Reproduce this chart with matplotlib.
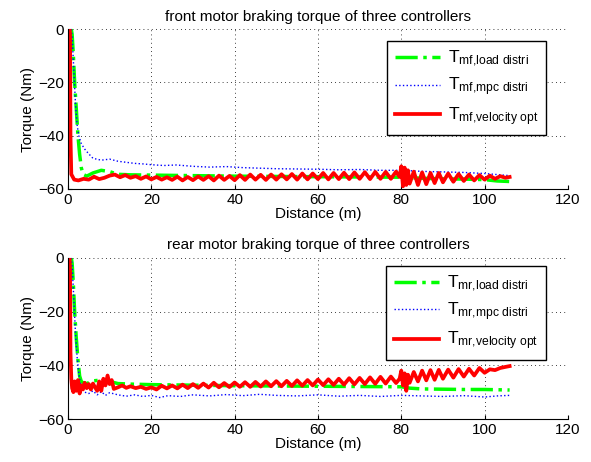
import matplotlib
matplotlib.use("Agg")
import matplotlib.pyplot as plt

plt.rcParams['font.family'] = ['Liberation Sans', 'DejaVu Sans']
plt.rcParams['mathtext.fontset'] = 'custom'
plt.rcParams['mathtext.rm'] = 'Liberation Sans'
plt.rcParams['mathtext.it'] = 'Liberation Sans:italic'

# ---- front motor ----
front_red_x = [0.4, 0.5, 0.6, 0.8, 1.5, 2.5, 3.75, 5.0, 6.25, 7.5, 8.75, 10.0, 11.25, 12.5,
               13.75, 15.0, 16.25, 17.5, 18.75, 20.0, 21.25, 22.5, 23.75, 25.0, 26.25, 27.5,
               28.75, 30.0, 31.25, 32.5, 33.75, 35.0, 36.25, 37.5, 38.75, 40.0, 41.25, 42.5,
               43.75, 45.0, 46.25, 47.5, 48.75, 50.0, 51.25, 52.5, 53.75, 55.0, 56.25, 57.5,
               58.75, 60.0, 61.25, 62.5, 63.75, 65.0, 66.25, 67.5, 68.75, 70.0, 71.25, 72.5,
               73.75, 75.0, 76.25, 77.5, 78.75, 79.6, 80.0, 80.4, 80.8, 81.2, 81.6, 82.0,
               83.0, 84.0, 85.0, 86.0, 87.0, 88.0, 89.0, 90.0, 91.25, 92.5, 93.75, 95.0,
               96.25, 97.5, 98.75, 100.0, 101.25, 102.5, 103.75, 105.0, 106.0]
front_red_y = [0, -2, -40, -54.5, -56.5, -56.8, -56.2, -56.5, -55.4, -56.3, -55.8, -55.0,
               -54.6, -55.6, -54.8, -55.8, -55.2, -56.2, -55.3, -56.4, -55.5, -56.5, -55.6,
               -56.6, -55.4, -56.8, -55.5, -56.7, -55.3, -56.6, -55.2, -56.8, -55.0, -56.6,
               -55.1, -56.7, -54.8, -56.6, -54.6, -56.5, -54.7, -56.6, -54.6, -56.5, -54.5,
               -56.4, -54.4, -56.5, -54.2, -56.4, -54.2, -56.3, -54.0, -56.4, -54.0, -56.3,
               -53.9, -56.3, -53.8, -56.2, -53.7, -56.3, -53.6, -56.2, -53.6, -56.2, -53.5,
               -55.5, -51.5, -59.0, -52.0, -58.5, -53.0, -58.0, -53.5, -58.5, -53.8, -58.2,
               -54.0, -57.8, -54.0, -57.5, -54.2, -57.3, -54.4, -57.0, -54.6, -56.8, -54.8,
               -56.5, -55.0, -56.2, -55.2, -55.8, -55.5]

front_green_x = [0.8, 1.0, 1.3, 1.6, 2.0, 2.4, 2.8, 3.2, 3.6, 4.5, 6, 8, 10, 12, 15, 20, 30,
                 40, 50, 60, 70, 80, 85, 90, 95, 100, 103, 106]
front_green_y = [0, -2, -10, -20, -30, -40, -47, -52, -54.5, -55.2, -54, -53, -53.5, -54.5,
                 -54.7, -54.8, -55, -55.2, -55.3, -55.4, -55.5, -55.6, -56, -56.2, -56.3,
                 -56.5, -57, -57.2]

front_blue_x = [0.8, 1.0, 1.4, 1.8, 2.2, 2.6, 3.2, 4.0, 4.8, 6, 8, 10, 12, 14, 16, 18, 20,
                23, 26, 30, 34, 38, 42, 46, 50, 55, 60, 65, 70, 75, 80, 85, 90, 95, 100,
                103, 106]
front_blue_y = [0, -3, -15, -28, -36, -40, -43, -45, -46.5, -48.5, -49.2, -48.8, -49.6,
                -50.0, -50.4, -50.6, -50.9, -51.2, -51.0, -51.5, -51.8, -51.6, -52.0, -52.2,
                -52.4, -52.5, -52.6, -52.8, -52.7, -53.0, -53.0, -53.4, -53.6, -53.8, -54.2,
                -54.6, -55]

# ---- rear motor ----
rear_red_x = [0.4, 0.5, 0.6, 0.8, 1.0, 1.3, 1.6, 2.0, 2.4, 2.8, 3.2, 3.6, 4.0, 4.5, 5.0,
              5.5, 6.0, 6.5, 7.0, 7.5, 8.0, 8.5, 9.0, 9.5, 10.0, 10.5, 11.0, 12.0, 13.0,
              14.0, 15.0, 16.25, 17.5, 18.75, 20.0, 21.25, 22.5, 23.75, 25.0, 26.25, 27.5,
              28.75, 30.0, 31.25, 32.5, 33.75, 35.0, 36.25, 37.5, 38.75, 40.0, 41.25, 42.5,
              43.75, 45.0, 46.25, 47.5, 48.75, 50.0, 51.25, 52.5, 53.75, 55.0, 56.25, 57.5,
              58.75, 60.0, 61.25, 62.5, 63.75, 65.0, 66.25, 67.5, 68.75, 70.0, 71.25, 72.5,
              73.75, 75.0, 76.25, 77.5, 78.75, 79.6, 80.0, 80.4, 80.8, 81.2, 81.6, 82.0,
              83.0, 84.0, 85.0, 86.0, 87.0, 88.0, 89.0, 90.0, 91.25, 92.5, 93.75, 95.0,
              96.25, 97.5, 98.75, 100.0, 101.25, 102.5, 103.75, 105.0, 106.0]
rear_red_y = [0, -5, -35, -45, -48.5, -50.0, -46.0, -49.5, -45.5, -50.5, -47.5, -49.0,
              -46.5, -48.5, -47.0, -49.0, -46.8, -48.2, -49.5, -46.0, -49.5, -45.0, -47.5,
              -43.8, -47.0, -45.5, -48.8, -48.2, -47.5, -48.4, -47.8, -48.5, -48.0, -48.8,
              -48.2, -49.0, -47.6, -48.6, -47.5, -48.6, -47.2, -48.5, -47.0, -48.4, -46.8,
              -48.3, -46.5, -48.2, -46.6, -48.1, -46.4, -48.0, -46.3, -48.0, -46.2, -47.9,
              -46.0, -47.8, -45.9, -47.8, -45.8, -47.7, -45.6, -47.6, -45.5, -47.5, -45.3,
              -47.4, -45.2, -47.3, -45.0, -47.2, -44.8, -47.1, -44.7, -47.0, -44.5, -46.9,
              -44.3, -46.8, -44.2, -46.6, -45.0, -42.0, -47.5, -43.0, -49.5, -43.5, -46.5,
              -42.5, -46.0, -42.0, -45.6, -41.8, -45.4, -41.7, -45.0, -41.6, -44.6, -41.4,
              -44.2, -41.3, -43.8, -41.0, -42.8, -41.5, -41.8, -41.0, -40.6, -40.3]

rear_green_x = [0.8, 1.0, 1.3, 1.6, 2.0, 2.4, 2.8, 3.2, 3.6, 4.5, 6, 8, 10, 12, 15, 20, 30,
                40, 50, 60, 70, 80, 82, 85, 90, 95, 100, 106]
rear_green_y = [0, -2, -10, -20, -30, -38, -44, -46, -46.5, -46.8, -45.8, -45.5, -46.0,
                -46.8, -47.0, -47.2, -47.4, -47.6, -47.7, -47.8, -47.9, -48.0, -48.5, -48.8,
                -48.9, -49.0, -49.0, -49.2]

rear_blue_x = [0.8, 1.0, 1.4, 1.8, 2.2, 2.6, 3.0, 3.5, 4.0, 5, 6, 7, 8, 9, 10, 12, 14, 16,
               18, 20, 22, 24, 27, 30, 34, 38, 42, 46, 50, 55, 60, 65, 70, 75, 80, 85, 90,
               95, 100, 103, 106]
rear_blue_y = [0, -3, -15, -28, -37, -43, -47, -49, -50, -50.5, -49.5, -51, -49.8, -51.2,
               -50.2, -51.0, -51.5, -51.0, -51.6, -51.2, -52.0, -51.3, -51.6, -51.0, -51.4,
               -50.9, -51.3, -50.8, -51.2, -51.4, -51.0, -51.5, -51.2, -51.6, -51.2, -51.4,
               -51.6, -51.3, -51.8, -51.4, -51.2]

panels = [
    ('front motor braking torque of three controllers', 'mf',
     front_green_x, front_green_y, front_blue_x, front_blue_y, front_red_x, front_red_y),
    ('rear motor braking torque of three controllers', 'mr',
     rear_green_x, rear_green_y, rear_blue_x, rear_blue_y, rear_red_x, rear_red_y),
]

fig = plt.figure(figsize=(5.91, 4.62), dpi=100)
rects = [[0.115, 0.591, 0.846, 0.346], [0.115, 0.093, 0.846, 0.349]]
leg_anchor = [(0.956, 0.925), (0.956, 0.95)]

for rect, anchor, (title, sub, gx, gy, bx, by, rx, ry) in zip(rects, leg_anchor, panels):
    ax = fig.add_axes(rect)
    ax.plot(gx, gy, color=(0, 1, 0), ls='-.', lw=2.5,
            label=r'$\mathrm{T_{%s{,}load\ distri}}$' % sub)
    ax.plot(bx, by, color='blue', ls=':', lw=1.0,
            label=r'$\mathrm{T_{%s{,}mpc\ distri}}$' % sub)
    ax.plot(rx, ry, color='red', ls='-', lw=2.7,
            label=r'$\mathrm{T_{%s{,}velocity\ opt}}$' % sub)
    ax.set_xlim(0, 120)
    ax.set_ylim(-60, 0)
    ax.set_xticks([0, 20, 40, 60, 80, 100, 120])
    ax.set_yticks([-60, -40, -20, 0])
    ax.set_xticklabels(['0', '20', '40', '60', '80', '100', '120'])
    ax.set_yticklabels(['\u221260', '\u221240', '\u221220', '0'])
    ax.grid(True, color='black', ls=(0, (1, 4)), lw=0.6)
    ax.spines['top'].set_visible(False)
    ax.spines['right'].set_visible(False)
    ax.tick_params(direction='in', length=3, labelsize=11, pad=3)
    ax.set_title(title, fontsize=11, pad=6)
    ax.set_xlabel('Distance (m)', fontsize=11, labelpad=0)
    ax.set_ylabel('Torque (Nm)', fontsize=11, labelpad=2)
    leg = ax.legend(loc='upper right', bbox_to_anchor=anchor, fontsize=12.5,
                    fancybox=False, framealpha=1, edgecolor='black',
                    handlelength=2.6, handletextpad=0.45, borderpad=0.45,
                    labelspacing=0.38, borderaxespad=0)
    leg.get_frame().set_linewidth(1.0)

fig.savefig('out.png', dpi=100)
